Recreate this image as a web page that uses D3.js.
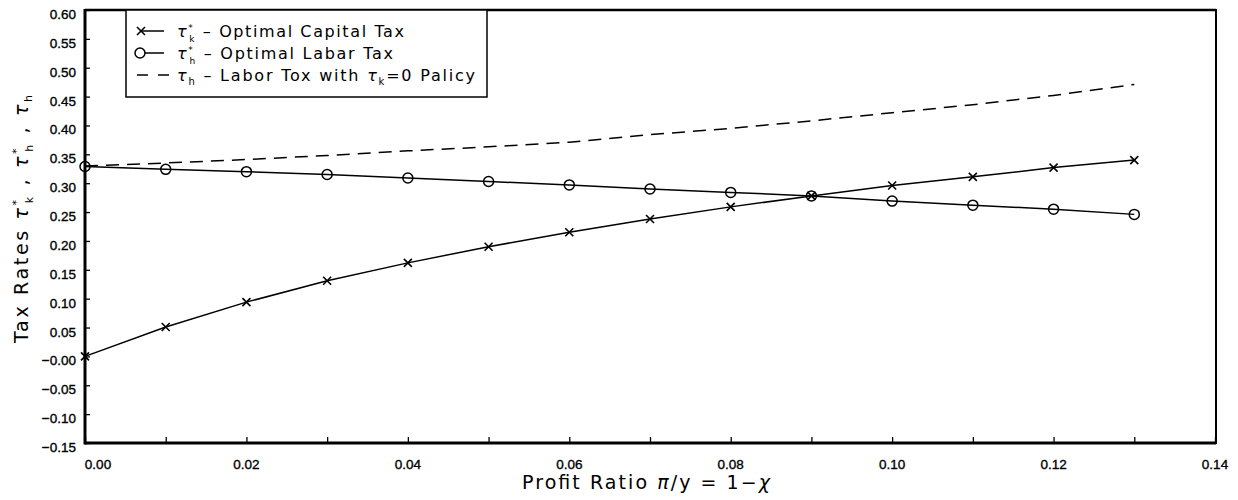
<!DOCTYPE html>
<html><head><meta charset="utf-8">
<script src="https://cdn.jsdelivr.net/npm/d3@7"></script>
<style>body{margin:0;background:#fff}svg{display:block}</style>
</head><body><svg id="c" width="1238" height="500"></svg>
<script>
const profitRatio = [0.00,0.01,0.02,0.03,0.04,0.05,0.06,0.07,0.08,0.09,0.10,0.11,0.12,0.13];
const capitalTax = [0.000,0.051,0.094,0.131,0.162,0.190,0.215,0.238,0.259,0.278,0.296,0.311,0.327,0.340];
const laborTax   = [0.329,0.324,0.320,0.315,0.309,0.303,0.297,0.290,0.284,0.278,0.269,0.262,0.255,0.246];
const laborTaxNoCapital = [0.330,0.335,0.341,0.348,0.356,0.363,0.371,0.384,0.395,0.408,0.422,0.436,0.452,0.471];
const yTicks = [0.60,0.55,0.50,0.45,0.40,0.35,0.30,0.25,0.20,0.15,0.10,0.05,0.00,-0.05,-0.10,-0.15];
const yTickLabels = ["0.60","0.55","0.50","0.45","0.40","0.35","0.30","0.25","0.20","0.15","0.10","0.05","\u22120.00","\u22120.05","\u22120.10","\u22120.15"];
const xTicks = [0.00,0.02,0.04,0.06,0.08,0.10,0.12,0.14];
const xTickLabels = ["0.00","0.02","0.04","0.06","0.08","0.10","0.12","0.14"];
const xMinorTicks = [0.01,0.03,0.05,0.07,0.09,0.11,0.13];

const svg = d3.select("#c");
const L=85, R=1216, T=10, B=443;
const x = d3.scaleLinear().domain([0,0.14]).range([L,R-1]);
const y = d3.scaleLinear().domain([-0.15,0.60]).range([B,T]);
const font = "'Liberation Sans', Arial, sans-serif";
const tfont = "'DejaVu Sans', sans-serif";

// frame
svg.append("rect").attr("x",L).attr("y",T).attr("width",R-L).attr("height",B-T)
  .attr("fill","none").attr("stroke","#000").attr("stroke-width",2);
svg.append("line").attr("x1",L).attr("x2",L).attr("y1",T-1).attr("y2",B+1.5).attr("stroke","#000").attr("stroke-width",3);
svg.append("line").attr("x1",L).attr("x2",R).attr("y1",B).attr("y2",B).attr("stroke","#000").attr("stroke-width",3);
svg.append("line").attr("x1",L).attr("x2",R).attr("y1",T).attr("y2",T).attr("stroke","#000").attr("stroke-width",2.5);

// y axis
const yAx = svg.append("g").attr("transform",`translate(${L},0)`)
  .call(d3.axisRight(y).tickValues(yTicks).tickSize(5).tickFormat(""));
yAx.select(".domain").remove();
yAx.selectAll("line").attr("stroke-width",1.3);
svg.append("g").selectAll("text").data(yTicks).join("text")
  .attr("x",76).attr("y",d=>y(d)+9).attr("text-anchor","end")
  .attr("font-family",font).attr("font-size",13.5).attr("stroke","#000").attr("stroke-width",0.35)
  .text((d,i)=>yTickLabels[i]);

// x axis
const xAx = svg.append("g").attr("transform",`translate(0,${B})`)
  .call(d3.axisTop(x).tickValues(xTicks.concat(xMinorTicks)).tickSize(6).tickFormat(""));
xAx.select(".domain").remove();
xAx.selectAll("line").attr("stroke-width",1.3);
svg.append("g").selectAll("text").data(xTicks).join("text")
  .attr("x",(d,i)=>x(d)+(i===0?13:0)).attr("y",469).attr("text-anchor","middle")
  .attr("font-family",font).attr("font-size",13.5).attr("stroke","#000").attr("stroke-width",0.35)
  .text((d,i)=>xTickLabels[i]);

// lines
const line = d3.line().x(d=>x(d[0])).y(d=>y(d[1]));
const cap = profitRatio.map((p,i)=>[p,capitalTax[i]]);
const lab = profitRatio.map((p,i)=>[p,laborTax[i]]);
const lab0 = profitRatio.map((p,i)=>[p,laborTaxNoCapital[i]]);
svg.append("path").attr("d",line(lab0)).attr("fill","none").attr("stroke","#000").attr("stroke-width",1.5).attr("stroke-dasharray","13,8");
svg.append("path").attr("d",line(cap)).attr("fill","none").attr("stroke","#000").attr("stroke-width",1.5);
svg.append("path").attr("d",line(lab)).attr("fill","none").attr("stroke","#000").attr("stroke-width",1.5);
const s=4;
svg.append("g").selectAll("path").data(cap).join("path")
  .attr("d",d=>{const cx=x(d[0]),cy=y(d[1]);return `M${cx-s},${cy-s}L${cx+s},${cy+s}M${cx-s},${cy+s}L${cx+s},${cy-s}`;})
  .attr("stroke","#000").attr("stroke-width",1.6);
svg.append("g").selectAll("circle").data(lab).join("circle")
  .attr("cx",d=>x(d[0])).attr("cy",d=>y(d[1])).attr("r",5)
  .attr("fill","none").attr("stroke","#000").attr("stroke-width",1.5);

// legend
const lg = svg.append("g");
lg.append("rect").attr("x",126).attr("y",T).attr("width",361).attr("height",87)
  .attr("fill","#fff").attr("stroke","#000").attr("stroke-width",1.5);
const rows=[31,53,75];
lg.append("line").attr("x1",141).attr("x2",164).attr("y1",rows[0]).attr("y2",rows[0]).attr("stroke","#000").attr("stroke-width",1.5);
lg.append("path").attr("d",`M${137},${rows[0]-4}L${145},${rows[0]+4}M${137},${rows[0]+4}L${145},${rows[0]-4}`).attr("stroke","#000").attr("stroke-width",1.6);
lg.append("line").attr("x1",141).attr("x2",164).attr("y1",rows[1]).attr("y2",rows[1]).attr("stroke","#000").attr("stroke-width",1.5);
lg.append("circle").attr("cx",140).attr("cy",rows[1]).attr("r",5).attr("fill","#fff").attr("stroke","#000").attr("stroke-width",1.5);
lg.append("line").attr("x1",137).attr("x2",170).attr("y1",rows[2]).attr("y2",rows[2]).attr("stroke","#000").attr("stroke-width",1.5).attr("stroke-dasharray","11,10");

function addParts(t, parts){
  parts.forEach(p=>{
    const ts=t.append("tspan").text(p.t);
    if(p.it) ts.attr("font-style","italic");
    if(p.fs) ts.attr("font-size",p.fs);
    if(p.dx!==undefined) ts.attr("dx",p.dx);
    if(p.dy!==undefined) ts.attr("dy",p.dy);
  });
}
function legText(yy, parts, len){
  const t = lg.append("text").attr("x",177).attr("y",yy+6).attr("font-family",tfont).attr("font-size",16)
    .attr("textLength",len).attr("lengthAdjust","spacing");
  addParts(t, parts);
  return t;
}
legText(rows[0],[{t:"\u03c4",it:1},{t:"*",fs:9,dy:-6},{t:"k",fs:9,dy:11,dx:-5},{t:" \u2013 Optimal Capital Tax",dy:-5}],227);
legText(rows[1],[{t:"\u03c4",it:1},{t:"*",fs:9,dy:-6},{t:"h",fs:9,dy:11,dx:-5},{t:" \u2013 Optimal Labar Tax",dy:-5}],216);
legText(rows[2],[{t:"\u03c4",it:1},{t:"h",fs:10,dy:4},{t:" \u2013 Labor Tox with ",dy:-4},{t:"\u03c4",it:1},{t:"k",fs:10,dy:4},{t:"=0 Palicy",dy:-4}],298);

// axis titles
const xt = svg.append("text").attr("x",522).attr("y",489)
  .attr("font-family",tfont).attr("font-size",19).attr("textLength",248).attr("lengthAdjust","spacing");
addParts(xt,[{t:"Profit Ratio "},{t:"\u03c0",it:1},{t:"/y = 1\u2212"},{t:"\u03c7",it:1}]);

const yt = svg.append("text").attr("transform","translate(28,343) rotate(-90)")
  .attr("font-family",tfont).attr("font-size",19).attr("textLength",248).attr("lengthAdjust","spacing");
addParts(yt,[{t:"Tax Rates "},{t:"\u03c4",it:1},{t:"*",fs:11,dy:-8},{t:"k",fs:11,dy:13,dx:-6},{t:" , ",dy:-5},
  {t:"\u03c4",it:1},{t:"*",fs:11,dy:-8},{t:"h",fs:11,dy:13,dx:-6},{t:" , ",dy:-5},{t:"\u03c4",it:1},{t:"h",fs:11,dy:4}]);
</script></body></html>
